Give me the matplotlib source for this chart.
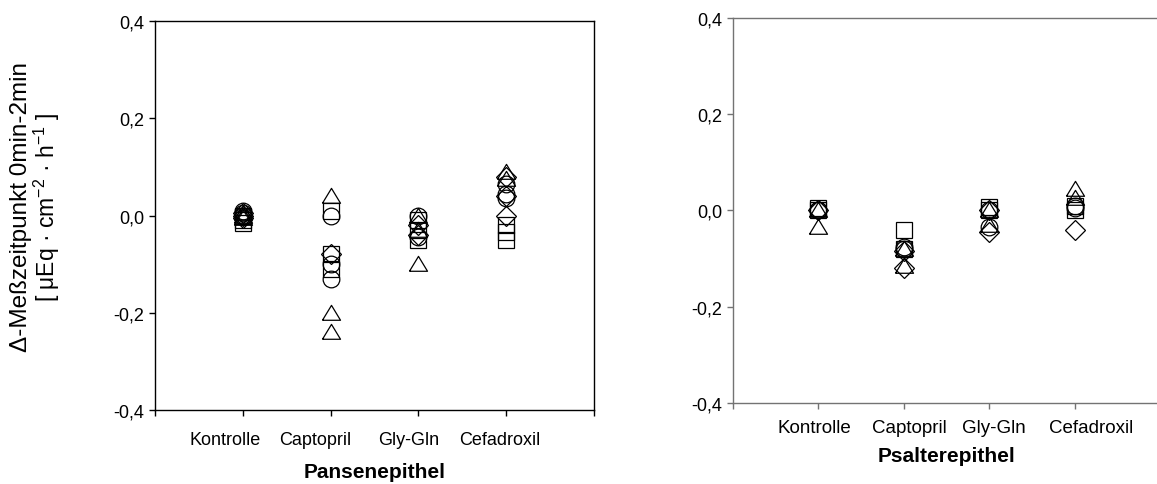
import matplotlib
matplotlib.use("Agg")
import matplotlib.pyplot as plt

plt.rcParams['font.family'] = ['Liberation Sans', 'DejaVu Sans']
plt.rcParams['mathtext.fontset'] = 'custom'
plt.rcParams['mathtext.rm'] = 'Liberation Sans'

gruppen = ["Kontrolle", "Captopril", "Gly-Gln", "Cefadroxil"]
y_ticks = [-0.4, -0.2, 0.0, 0.2, 0.4]
y_labels = ["-0,4", "-0,2", "0,0", "0,2", "0,4"]

# Pansenepithel, je Gruppe eine Liste pro Symbol
pansen_kreis = [[0.01, 0.005, 0.0], [0.0, -0.10, -0.13], [0.0, -0.045], [0.065, 0.045, 0.035]]
pansen_quadrat = [[0.0, -0.01, -0.015], [0.01, -0.08, -0.11], [-0.01, -0.03, -0.05], [-0.02, -0.033, -0.05]]
pansen_dreieck = [[0.005, 0.0, -0.005], [0.04, -0.20, -0.24], [0.0, -0.03, -0.10], [0.09, 0.075]]
pansen_raute = [[0.005, 0.0, -0.005], [-0.08], [-0.02, -0.04], [0.08, 0.04, 0.0]]

# Psalterepithel
psalter_kreis = [[0.0, 0.0], [-0.075, -0.08], [0.0, -0.035], [0.01, 0.005]]
psalter_quadrat = [[0.0, 0.005], [-0.04, -0.08], [0.007, 0.0], [0.01, 0.0]]
psalter_dreieck = [[0.0, -0.035], [-0.08, -0.115], [0.0, -0.03], [0.045, 0.025]]
psalter_raute = [[0.0], [-0.085, -0.12], [0.0, -0.045], [-0.04]]

# flaches, geschlossenes Dreieck
dreieck = [(-1, -0.75), (1, -0.75), (0, 0.9), (-1, -0.75)]
symbole = [("o", 12), ("s", 11), (dreieck, 13), ("D", 10.5)]


def zeichne(ax, reihen, farbe, xpos, xlab_y, titel, titel_y, schrift):
    for (m, ms), reihe in zip(symbole, reihen):
        for i, werte in enumerate(reihe):
            ax.plot([i + 1] * len(werte), werte, linestyle="none", marker=m,
                    markersize=ms, markerfacecolor="none",
                    markeredgecolor="black", markeredgewidth=0.9)
    ax.set_xlim(0, 5)
    ax.set_ylim(-0.4, 0.4)
    ax.set_xticks(range(6))
    ax.set_xticklabels([])
    ax.set_yticks(y_ticks)
    ax.set_yticklabels(y_labels, fontsize=13)
    ax.tick_params(direction="out", length=4, width=1, color=farbe)
    for s in ax.spines.values():
        s.set_color(farbe)
        s.set_linewidth(1)
    for x, g in zip(xpos, gruppen):
        ax.text(x, xlab_y, g, transform=ax.get_xaxis_transform(),
                ha="center", va="center", fontsize=schrift)
    ax.text(2.5, titel_y, titel, transform=ax.get_xaxis_transform(),
            ha="center", va="center", fontsize=15, fontweight="bold")


fig = plt.figure(figsize=(11.57, 4.85), dpi=100)
ax1 = fig.add_axes([0.134, 0.1526, 0.3794, 0.802])
ax2 = fig.add_axes([0.6335, 0.167, 0.3695, 0.794])

zeichne(ax1, [pansen_kreis, pansen_quadrat, pansen_dreieck, pansen_raute], "black",
        [0.80, 1.82, 2.89, 3.93], -0.077, "Pansenepithel", -0.157, 13)
zeichne(ax2, [psalter_kreis, psalter_quadrat, psalter_dreieck, psalter_raute], "0.45",
        [0.95, 2.06, 3.05, 4.19], -0.064, "Psalterepithel", -0.137, 13.5)

fig.text(21 / 1157, 1 - 207 / 485, "Δ-Meßzeitpunkt 0min-2min", rotation=90,
         ha="center", va="center", fontsize=17.5)
fig.text(47 / 1157, 1 - 207 / 485,
         "[ μEq · cm$^{\\mathregular{-2}}$ · h$^{\\mathregular{-1}}$ ]",
         rotation=90, ha="center", va="center", fontsize=16.5)

fig.savefig("out.png", dpi=100)
